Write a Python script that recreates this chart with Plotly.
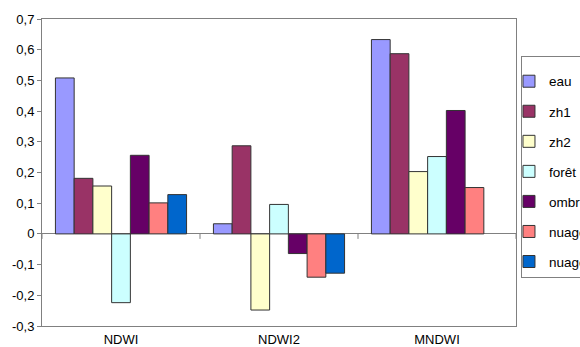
import plotly.graph_objects as go

categories = ["NDWI", "NDWI2", "MNDWI"]
series_names = ["eau", "zh1", "zh2", "forêt", "ombre", "nuage1", "nuage2"]
eau = [0.508, 0.033, 0.633]
zh1 = [0.181, 0.287, 0.587]
zh2 = [0.156, -0.248, 0.203]
foret = [-0.224, 0.096, 0.252]
ombre = [0.256, -0.064, 0.402]
nuage1 = [0.101, -0.141, 0.151]
nuage2 = [0.128, -0.128, None]
y_tickvals = [-0.3, -0.2, -0.1, 0, 0.1, 0.2, 0.3, 0.4, 0.5, 0.6, 0.7]
y_ticktext = ["-0,3", "-0,2", "-0,1", "0", "0,1", "0,2", "0,3", "0,4", "0,5", "0,6", "0,7"]

series_values = [eau, zh1, zh2, foret, ombre, nuage1, nuage2]
colors = ["#9999FF", "#993366", "#FFFFCC", "#CCFFFF", "#660066", "#FF8080", "#0066CC"]

FONT = "Liberation Sans, Arial, sans-serif"

fig = go.Figure()
for i, (name, vals, col) in enumerate(zip(series_names, series_values, colors)):
    fig.add_trace(go.Bar(
        x=categories, y=vals, name=name, legendgroup=name,
        marker=dict(color=col, line=dict(color="#333333", width=1)),
        hoverinfo="skip",
    ))

shapes = []
for i in range(len(categories) + 1):
    shapes.append(dict(type="line", xref="x", yref="y", x0=i - 0.5, x1=i - 0.5,
                       ysizemode="pixel", yanchor=0, y0=0, y1=-5,
                       line=dict(color="#808080", width=1)))

fig.update_layout(
    width=580, height=347,
    margin=dict(l=42, r=64, t=19, b=21, autoexpand=False),
    paper_bgcolor="white", plot_bgcolor="white",
    barmode="group", bargap=0.17, bargroupgap=0,
    font=dict(family=FONT, size=13, color="black"),
    showlegend=True,
    legend=dict(x=1.0105, xanchor="left", y=0.88, yanchor="top",
                bordercolor="#808080", borderwidth=1, bgcolor="white",
                tracegroupgap=9.5, indentation=-13,
                title=dict(text=" ", font=dict(size=7)),
                font=dict(family=FONT, size=13.5, color="black")),
    shapes=shapes,
    xaxis=dict(type="category", range=[-0.5, 2.5], showline=True, mirror=True,
               linecolor="#808080", linewidth=1, ticks="", showgrid=False,
               ticklabelstandoff=1, tickfont=dict(size=13)),
    yaxis=dict(range=[-0.3, 0.7], tickvals=y_tickvals, ticktext=y_ticktext,
               ticks="outside", ticklen=4, tickcolor="#808080",
               showline=True, mirror=True, linecolor="#808080", linewidth=1,
               showgrid=False, zeroline=True, zerolinecolor="#808080", zerolinewidth=1),
)

fig.write_html("out.html", config={"displayModeBar": False},
               post_script="document.body.style.margin='0';")
